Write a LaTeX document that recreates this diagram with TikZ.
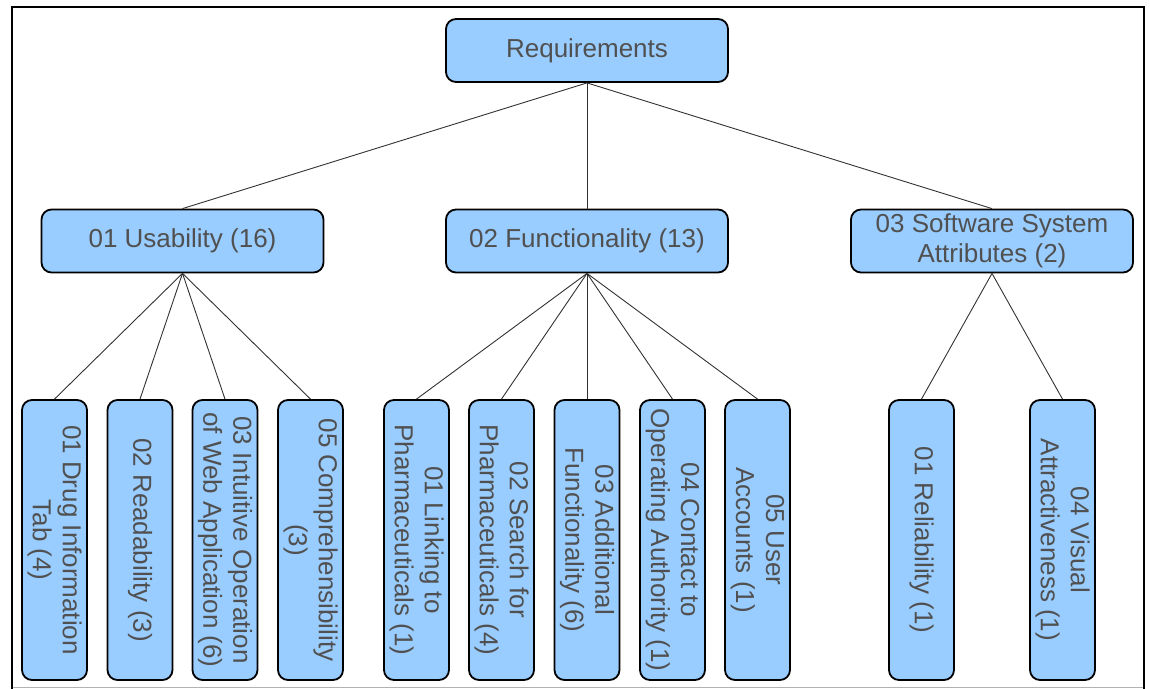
\documentclass[tikz,border=0pt]{standalone}
\usepackage{fontspec}
\setmainfont{Liberation Sans}
\definecolor{boxblue}{RGB}{153,204,255}
\definecolor{txtgray}{RGB}{80,80,80}
\definecolor{linegray}{RGB}{50,50,50}
\begin{document}
\begin{tikzpicture}[x=1bp,y=-1bp,
  box/.style={draw=black,line width=1.8bp,fill=boxblue,rounded corners=10bp,
    text=txtgray,align=center,font=\fontsize{26bp}{30bp}\selectfont,inner sep=0pt},
  topbox/.style={box,minimum width=282bp,minimum height=63bp},
  leaf/.style={box,rotate=-90,minimum width=280bp,minimum height=65bp},
  conn/.style={draw=linegray,line width=0.9bp}]
\useasboundingbox (0,0) rectangle (1150,689);
% frame
\draw[gray!60,line width=1bp] (12,687.5) -- (1144,687.5);
\draw[black,line width=2.6bp] (12,689) -- (12,7) -- (1144,7) -- (1144,689);
% nodes
\node[topbox] (req) at (587,50.5) {Requirements};
\node[topbox] (usa) at (182.5,241) {01 Usability (16)};
\node[topbox] (fun) at (587,241) {02 Functionality (13)};
\node[topbox] (ssa) at (992,241) {03 Software System\\Attributes (2)};
\node[leaf] (u1) at (54.5,540) {01 Drug Information\\Tab (4)};
\node[leaf] (u2) at (140,540) {02 Readability (3)};
\node[leaf] (u3) at (225,540) {03 Intuitive Operation\\of Web Application (6)};
\node[leaf] (u5) at (310.5,540) {05 Comprehensibility\\(3)};
\node[leaf] (f1) at (416.5,540) {01 Linking to\\Pharmaceuticals (1)};
\node[leaf] (f2) at (501.5,540) {02 Search for\\Pharmaceuticals (4)};
\node[leaf] (f3) at (587,540) {03 Additional\\Functionality (6)};
\node[leaf] (f4) at (672.5,540) {04 Contact to\\Operating Authority (1)};
\node[leaf] (f5) at (757.5,540) {05 User\\Accounts (1)};
\node[leaf] (s1) at (921.5,540) {01 Reliability (1)};
\node[leaf] (s4) at (1062.5,540) {04 Visual\\Attractiveness (1)};
% connectors
\foreach \c in {usa,fun,ssa} \draw[conn] (req.south) -- (\c.north);
\foreach \c in {u1,u2,u3,u5} \draw[conn] (usa.south) -- (\c.west);
\foreach \c in {f1,f2,f3,f4,f5} \draw[conn] (fun.south) -- (\c.west);
\foreach \c in {s1,s4} \draw[conn] (ssa.south) -- (\c.west);
\end{tikzpicture}
\end{document}
